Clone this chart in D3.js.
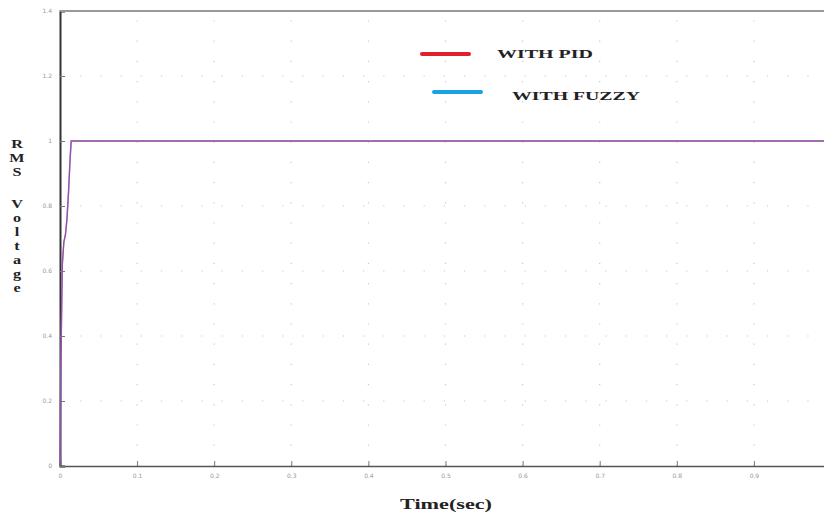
<!DOCTYPE html>
<html>
<head>
<meta charset="utf-8">
<script src="https://cdn.jsdelivr.net/npm/d3@7"></script>
<style>
  body { margin: 0; background: #fff; }
  .tick text { font-family: "DejaVu Sans", sans-serif; font-size: 6px; fill: #999; }
  .lbl { font-family: "Liberation Serif", serif; font-weight: bold; fill: #222; }
</style>
</head>
<body>
<div id="vis"></div>
<script>
// time (sec) and RMS voltage; both controllers give the same trace
var timeSec   = [0, 0.001, 0.003, 0.005, 0.007, 0.009, 0.011, 0.013, 0.0145, 0.05, 0.3, 0.6, 1.0];
var pidVolt   = [0, 0.30, 0.62, 0.69, 0.71, 0.76, 0.84, 0.94, 1.0, 1.0, 1.0, 1.0, 1.0];
var fuzzyVolt = [0, 0.30, 0.62, 0.69, 0.71, 0.76, 0.84, 0.94, 1.0, 1.0, 1.0, 1.0, 1.0];
var xTicks = [0, 0.1, 0.2, 0.3, 0.4, 0.5, 0.6, 0.7, 0.8, 0.9];
var yTicks = [0, 0.2, 0.4, 0.6, 0.8, 1, 1.2, 1.4];
var seriesNames = ['WITH PID', 'WITH FUZZY'];

var width = 824;
var height = 515;
var margin = { top: 11, left: 60, bottom: 49 };
var drawHeight = height - margin.top - margin.bottom;

var svg = d3.select('#vis')
            .append('svg')
            .attr('width', width)
            .attr('height', height);

var xScale = d3.scaleLinear().domain([0, 1]).range([margin.left, margin.left + 771]);
var yScale = d3.scaleLinear().domain([0, 1.4]).range([margin.top + drawHeight, margin.top]);

// dotted grid
var grid = svg.append('g');
grid.selectAll('.gx').data(xTicks.slice(1)).enter().append('line')
    .attr('x1', function(d) { return xScale(d); })
    .attr('x2', function(d) { return xScale(d); })
    .attr('y1', yScale(0)).attr('y2', yScale(1.4))
    .attr('stroke', '#c8c8c8').attr('stroke-width', 1.2)
    .attr('stroke-dasharray', '1.2,19');
grid.selectAll('.gy').data(yTicks.slice(1, -1)).enter().append('line')
    .attr('x1', xScale(0)).attr('x2', width)
    .attr('y1', function(d) { return yScale(d); })
    .attr('y2', function(d) { return yScale(d); })
    .attr('stroke', '#c8c8c8').attr('stroke-width', 1.2)
    .attr('stroke-dasharray', '1.2,19');

// axes
var xAxis = d3.axisBottom(xScale).tickValues(xTicks).tickSize(-5).tickPadding(8)
              .tickFormat(function(d) { return d === 0 ? '0' : d3.format('.1f')(d); });
var gx = svg.append('g')
    .attr('transform', 'translate(0,' + yScale(0) + ')')
    .call(xAxis);
gx.select('.domain').attr('stroke', '#555').attr('stroke-width', 1.5);
gx.selectAll('.tick line').attr('stroke', '#777');

var yAxis = d3.axisLeft(yScale).tickValues(yTicks).tickSize(-5).tickPadding(8)
              .tickFormat(function(d) { return d === 0 || d === 1 ? String(d) : d3.format('.1f')(d); });
var gy = svg.append('g')
    .attr('transform', 'translate(' + xScale(0) + ',0)')
    .call(yAxis);
gy.select('.domain').attr('stroke', '#333').attr('stroke-width', 2);
gy.selectAll('.tick line').attr('stroke', '#777');

// top frame line
svg.append('line')
    .attr('x1', xScale(0)).attr('x2', width)
    .attr('y1', yScale(1.4)).attr('y2', yScale(1.4))
    .attr('stroke', '#999').attr('stroke-width', 2);

// traces (overlapping, so they read as purple)
var line = d3.line()
    .x(function(d) { return xScale(d[0]); })
    .y(function(d) { return yScale(d[1]); });
svg.append('path')
    .datum(timeSec.map(function(t, i) { return [t, pidVolt[i]]; }))
    .attr('d', line).attr('fill', 'none')
    .attr('stroke', '#e0607a').attr('stroke-width', 1.4);
svg.append('path')
    .datum(timeSec.map(function(t, i) { return [t, fuzzyVolt[i]]; }))
    .attr('d', line).attr('fill', 'none')
    .attr('stroke', '#5a50d0').attr('stroke-width', 1.4).attr('opacity', 0.65);

// legend
var legend = [
    { name: seriesNames[0], color: '#e0202e', x1: 422, x2: 469, y: 54, tx: 497, ty: 58, len: 96 },
    { name: seriesNames[1], color: '#1aa2e6', x1: 434, x2: 481, y: 92, tx: 512, ty: 100, len: 128 }
];
legend.forEach(function(d) {
    svg.append('line')
        .attr('x1', d.x1).attr('x2', d.x2).attr('y1', d.y).attr('y2', d.y)
        .attr('stroke', d.color).attr('stroke-width', 4).attr('stroke-linecap', 'round');
    svg.append('text').attr('class', 'lbl')
        .attr('x', d.tx).attr('y', d.ty)
        .attr('textLength', d.len).attr('lengthAdjust', 'spacingAndGlyphs')
        .style('font-size', '12px')
        .text(d.name);
});

// axis labels
svg.append('text').attr('class', 'lbl')
    .attr('x', 400).attr('y', 509)
    .attr('textLength', 92).attr('lengthAdjust', 'spacingAndGlyphs')
    .style('font-size', '14px')
    .text('Time(sec)');

var yLetters = ['R', 'M', 'S', '', 'V', 'o', 'l', 't', 'a', 'g', 'e'];
var yPos = [148, 162, 176, 192, 208, 222, 236, 250, 264, 278, 292];
yLetters.forEach(function(c, i) {
    if (!c) return;
    svg.append('text').attr('class', 'lbl')
        .attr('text-anchor', 'middle')
        .attr('transform', 'translate(17,' + yPos[i] + ') scale(1.35,1)')
        .style('font-size', '12px')
        .text(c);
});
</script>
</body>
</html>
